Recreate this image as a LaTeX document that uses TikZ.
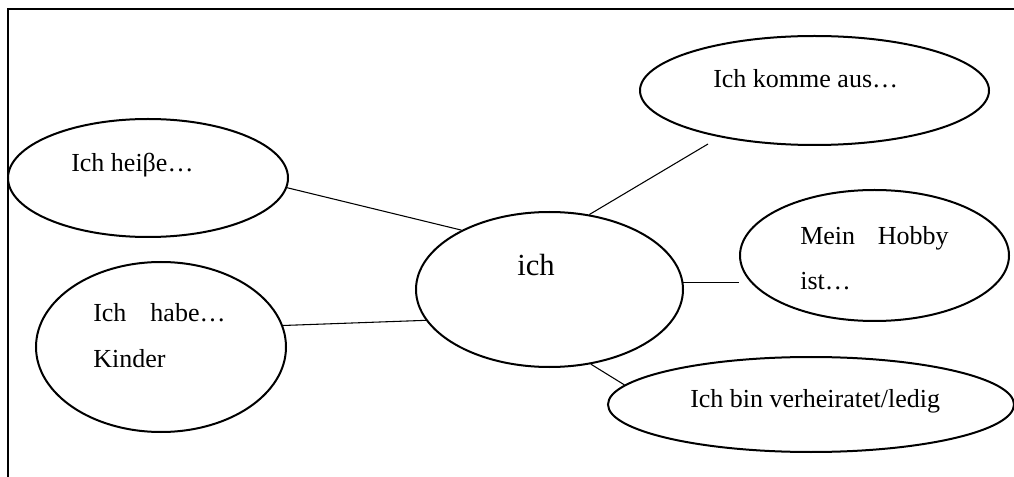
\documentclass[tikz,border=0pt]{standalone}
\usepackage{fontspec}
\setmainfont{Liberation Serif}
\usetikzlibrary{shapes.geometric}
\begin{document}
\begin{tikzpicture}[x=0.75pt,y=-0.75pt,
  bubble/.style={ellipse,draw,line width=1.5pt,inner sep=0pt},
  link/.style={line width=0.8pt},
  txt/.style={anchor=base west,inner sep=0pt,font=\fontsize{19.5}{24}\selectfont}]
\useasboundingbox (0,0) rectangle (1014,477);
% open frame: left and top edges only
\draw[line width=1.5pt] (8,477) -- (8,9) -- (1014,9);

% bubbles
\node[bubble,minimum width=210pt,minimum height=88.5pt] (heisse) at (148,178) {};
\node[bubble,minimum width=200.25pt,minimum height=116.25pt] (ich) at (549.5,289.5) {};
\node[bubble,minimum width=261.75pt,minimum height=81.75pt] (komme) at (814.5,90.5) {};
\node[bubble,minimum width=201.75pt,minimum height=98.25pt] (hobby) at (874.5,255.5) {};
\node[bubble,minimum width=304.5pt,minimum height=71.25pt] (ledig) at (811,404.5) {};
\node[bubble,minimum width=187.5pt,minimum height=127.5pt] (habe) at (161,347) {};

% texts
\node[txt] (theisse) at (71,172) {Ich heiβe…};
\node[txt,font=\fontsize{23}{28}\selectfont] (tich) at (517,276) {ich};
\node[txt] (tkomme) at (713,88) {Ich komme aus…};
\node[txt] (thobbyA) at (800,245) {Mein\hspace{17pt}Hobby};
\node[txt] (thobbyB) at (800,290) {ist…};
\node[txt] (thabeA) at (93,322) {Ich\hspace{18pt}habe…};
\node[txt] (thabeB) at (93,368) {Kinder};
\node[txt] (tledig) at (690,407) {Ich bin verheiratet/ledig};

% connectors
\coordinate (kommeEnd) at (708,144);
\draw[link] (heisse.-4) -- (ich.146.5);
\draw[link] (ich.62) -- (kommeEnd);
\draw[link] (ich.3) -- (ich.3 -| hobby.west);
\draw[link] (habe.10) -- (ich.194);
\draw[link] (ich.-61.6) -- (ledig.174.7);
\end{tikzpicture}
\end{document}
